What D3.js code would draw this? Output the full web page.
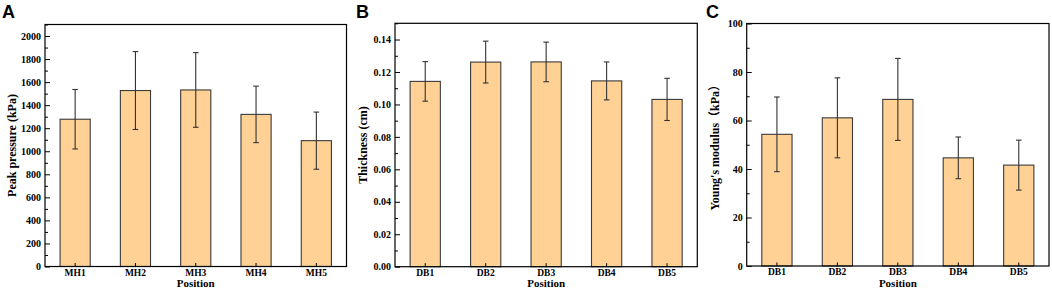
<!DOCTYPE html>
<html><head><meta charset="utf-8">
<script src="https://cdn.jsdelivr.net/npm/d3@7"></script>
<style>
html,body{margin:0;padding:0;background:#fff;}
svg{display:block;}
</style></head>
<body>
<svg id="chart" width="1052" height="289"></svg>
<script>
// ---- data ----
const catsA = ["MH1","MH2","MH3","MH4","MH5"];
const meanA = [1278, 1527, 1532, 1320, 1092];
const errA  = [258, 338, 324, 245, 248];
const ticksA = [0,200,400,600,800,1000,1200,1400,1600,1800,2000];

const catsB = ["DB1","DB2","DB3","DB4","DB5"];
const meanB = [0.1142, 0.1261, 0.1262, 0.1145, 0.1031];
const errB  = [0.0122, 0.0129, 0.0122, 0.0117, 0.0130];
const ticksB = [0,0.02,0.04,0.06,0.08,0.10,0.12,0.14];

const catsC = ["DB1","DB2","DB3","DB4","DB5"];
const meanC = [54.3, 61.1, 68.7, 44.6, 41.6];
const errC  = [15.4, 16.5, 16.9, 8.6, 10.3];
const ticksC = [0,20,40,60,80,100];

const panels = [
  {letter:"A", cats:catsA, mean:meanA, err:errA, ticks:ticksA, max:2100, minor:100, fmt:d3.format("d"),
   title:"Peak pressure (kPa)", box:[45,24.5,346.5,266.5], letterX:2, titleX:12},
  {letter:"B", cats:catsB, mean:meanB, err:errB, ticks:ticksB, max:0.15, minor:0.01, fmt:d3.format(".2f"),
   title:"Thickness (cm)", box:[395,23.3,697.3,266.7], letterX:356, titleX:363},
  {letter:"C", cats:catsC, mean:meanC, err:errC, ticks:ticksC, max:100, minor:10, fmt:d3.format("d"),
   title:"Young's modulus（kPa）", box:[746.7,23.5,1049,266], letterX:706, titleX:715}
];

const svg = d3.select("#chart");
const serif = "'Liberation Serif','Times New Roman','Noto Sans CJK SC',serif";

panels.forEach(p => {
  const [l,t,r,b] = p.box;
  const x = d3.scaleBand().domain(p.cats).range([l,r]).paddingInner(0.5).paddingOuter(0.25);
  const y = d3.scaleLinear().domain([0,p.max]).range([b,t]);
  const g = svg.append("g");

  // bars
  g.selectAll("rect.bar").data(p.cats).enter().append("rect")
    .attr("x", d => x(d)).attr("width", x.bandwidth())
    .attr("y", (d,i) => y(p.mean[i])).attr("height", (d,i) => b - y(p.mean[i]))
    .attr("fill", "#FFD195").attr("stroke", "#3a3a3a").attr("stroke-width", 1.1);

  // error bars
  const cx = d => x(d) + x.bandwidth()/2;
  p.cats.forEach((d,i) => {
    const hi = y(p.mean[i] + p.err[i]), lo = y(p.mean[i] - p.err[i]);
    g.append("line").attr("x1",cx(d)).attr("x2",cx(d)).attr("y1",hi).attr("y2",lo)
      .attr("stroke","#333").attr("stroke-width",1.1);
    [hi,lo].forEach(yy => g.append("line").attr("x1",cx(d)-2.8).attr("x2",cx(d)+2.8)
      .attr("y1",yy).attr("y2",yy).attr("stroke","#333").attr("stroke-width",1.1));
  });

  // y axis major ticks (inward)
  const yAx = g.append("g").attr("transform", `translate(${l},0)`)
    .call(d3.axisLeft(y).tickValues(p.ticks).tickFormat(p.fmt).tickSize(-5).tickPadding(4));
  yAx.select(".domain").remove();
  yAx.selectAll("line").attr("stroke","#000").attr("stroke-width",1);
  yAx.selectAll("text").attr("font-family",serif).attr("font-weight","bold").attr("font-size",10).attr("fill","#000");

  // minor ticks
  const minors = d3.range(0, p.max + 1e-9, p.minor).filter(v => !p.ticks.some(tk => Math.abs(tk - v) < 1e-9));
  const mAx = g.append("g").attr("transform", `translate(${l},0)`)
    .call(d3.axisLeft(y).tickValues(minors).tickFormat("").tickSize(-3));
  mAx.select(".domain").remove();
  mAx.selectAll("line").attr("stroke","#000").attr("stroke-width",1);

  // x axis
  const xAx = g.append("g").attr("transform", `translate(0,${b})`)
    .call(d3.axisBottom(x).tickSize(-3.5).tickPadding(2.5));
  xAx.select(".domain").remove();
  xAx.selectAll("line").attr("stroke","#000").attr("stroke-width",1);
  xAx.selectAll("text").attr("font-family",serif).attr("font-weight","bold").attr("font-size",9.5).attr("fill","#000");

  // frame
  g.append("rect").attr("x",l).attr("y",t).attr("width",r-l).attr("height",b-t)
    .attr("fill","none").attr("stroke","#000").attr("stroke-width",1.2);

  // titles
  g.append("text").attr("x",(l+r)/2).attr("y",286.5).attr("text-anchor","middle")
    .attr("font-family",serif).attr("font-weight","bold").attr("font-size",11).text("Position");
  g.append("text").attr("transform",`translate(${p.titleX},${(t+b)/2}) rotate(-90)`)
    .attr("text-anchor","middle").attr("dominant-baseline","central")
    .attr("font-family",serif).attr("font-weight","bold").attr("font-size",12).text(p.title);

  g.append("text").attr("x",p.letterX).attr("y",18).attr("font-family","'Liberation Sans',Arial,sans-serif")
    .attr("font-weight","bold").attr("font-size",18).text(p.letter);
});
</script>
</body></html>
